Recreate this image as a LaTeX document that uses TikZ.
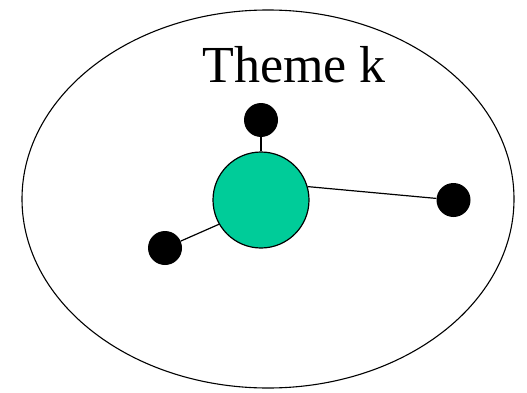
\documentclass[tikz,border=0pt]{standalone}
\usepackage{fontspec}
\usetikzlibrary{shapes.geometric}
\setmainfont{Liberation Serif}
\definecolor{themegreen}{HTML}{00CC99}
\begin{document}
\begin{tikzpicture}[x=1pt,y=1pt,
  dot/.style={circle,fill=black,inner sep=0pt,minimum size=34pt},
  hub/.style={circle,draw=black,line width=1.2pt,fill=themegreen,inner sep=0pt,minimum size=96pt},
  link/.style={line width=1.2pt}]
\useasboundingbox (0,0) rectangle (527,392);
\node[ellipse,draw=black,line width=1.1pt,minimum width=492pt,minimum height=378pt,inner sep=0pt] (e) at (268,193) {};
\node[anchor=base,font=\fontsize{52}{60}\selectfont,inner sep=0pt] (t) at (294,310) {Theme k};
\node[hub] (g) at (261,192) {};
\node[dot] (a) at (261,272) {};
\node[dot] (b) at (453.5,192) {};
\node[dot] (c) at (165,144) {};
\draw[link] (g) -- (a);
\draw[link] (g.16) -- (b);
\draw[link] (g.210) -- (c);
\end{tikzpicture}
\end{document}
